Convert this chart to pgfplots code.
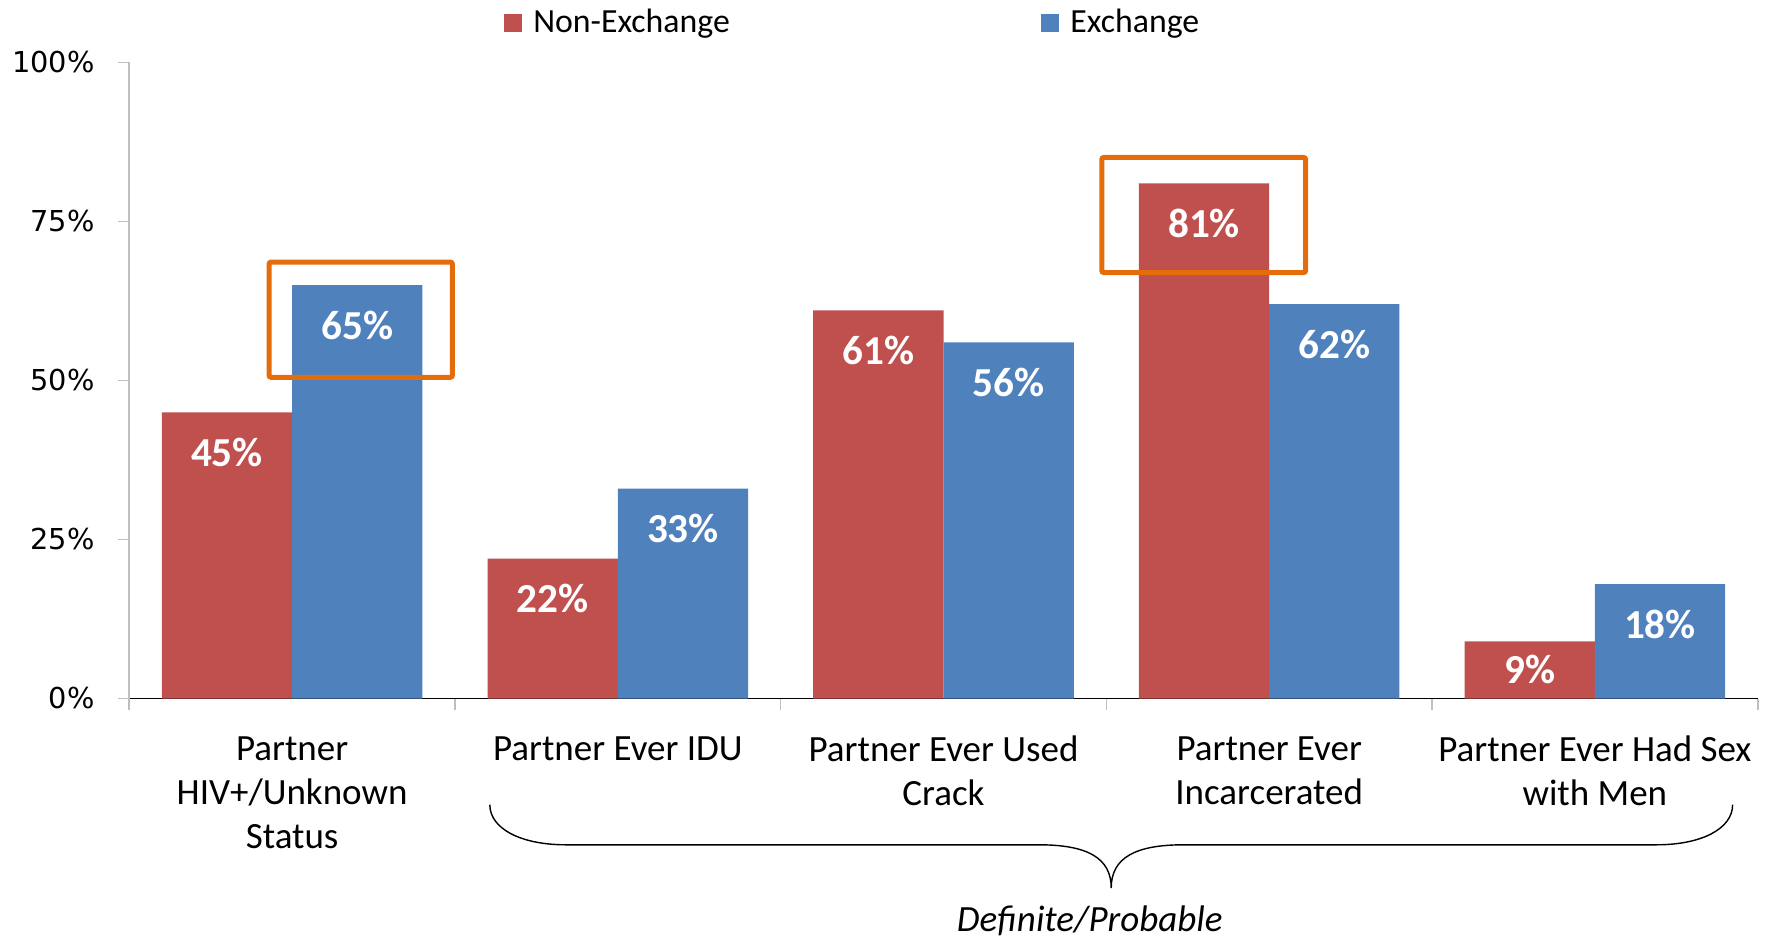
\documentclass[border=0pt]{standalone}
\usepackage{pgfplots}
\pgfplotsset{compat=1.18}
\usepackage{fontspec}
\setmainfont{Carlito}
\newfontfamily\tickfont{DejaVu Sans}
\definecolor{neRed}{HTML}{C0504D}
\definecolor{exBlue}{HTML}{4F81BD}
\definecolor{hiOrange}{HTML}{E46C0A}
\definecolor{axGray}{HTML}{BFBFBF}

\pgfplotsset{
  sq legend/.style={legend image code/.code={\fill[##1] (0pt,-4.5pt) rectangle (9pt,4.5pt);}},
}

\begin{document}
\begin{tikzpicture}
\begin{axis}[
    at={(0,0)}, anchor=south west,
    scale only axis, width=814.2pt, height=318.05pt,
    ybar=0pt, bar width=0.4,
    xmin=-0.5, xmax=4.5, ymin=0, ymax=100,
    clip=false,
    axis x line=bottom, axis y line=left,
    axis line style={-},
    x axis line style={black, line width=0.5pt},
    y axis line style={axGray, line width=0.8pt},
    tick align=outside,
    major tick length=5.7pt, minor tick length=5.7pt,
    xtick={0,1,2,3,4},
    xticklabels={{Partner\\HIV+/Unknown\\Status},{Partner Ever IDU},{Partner Ever Used\\Crack},{Partner Ever\\Incarcerated},{Partner Ever Had Sex\\with Men}},
    minor xtick={-0.5,0.5,1.5,2.5,3.5,4.5},
    major x tick style={draw=none},
    minor x tick style={axGray, line width=0.8pt},
    ytick={0,25,50,75,100},
    yticklabels={0\%,25\%,50\%,75\%,100\%},
    ytick style={axGray, line width=0.8pt},
    xticklabel style={font=\fontsize{18.5}{22}\selectfont, align=center, anchor=north, inner sep=0pt, yshift=-13pt},
    yticklabel style={font=\tickfont\fontsize{14.4}{16}\selectfont, anchor=east, inner sep=0pt, xshift=-11.5pt},
    visualization depends on={y \as \rawy},
    nodes near coords={\pgfmathprintnumber[assume math mode=true]{\pgfplotspointmeta}\%},
    every node near coord/.append style={font=\bfseries\fontsize{20.6}{24}\selectfont, text=white, anchor=center,
        yshift={-min(20,\rawy*1.59)*1pt}},
    legend columns=2,
    legend style={at={(rel axis cs:0,1)}, anchor=west, xshift=187.1pt, yshift=19.9pt,
        draw=none, fill=none, inner sep=0pt, font=\fontsize{16.9}{20}\selectfont,
        nodes={inner sep=0pt},
        /tikz/every odd column/.append style={column sep=5.7pt},
        /tikz/every even column/.append style={column sep=155.6pt}},
]
\addplot[fill=neRed, draw=none, sq legend] coordinates {(0,45) (1,22) (2,61) (3,81) (4,9)};
\addlegendentry{Non-Exchange}
\addplot[fill=exBlue, draw=none, sq legend] coordinates {(0,65) (1,33) (2,56) (3,62) (4,18)};
\addlegendentry{Exchange}

% highlight boxes
\draw[hiOrange, line width=2.5pt, rounded corners=1pt] (axis cs:-0.071,50.5) rectangle (axis cs:0.492,68.6);
\draw[hiOrange, line width=2.5pt, rounded corners=1pt] (axis cs:2.486,66.97) rectangle (axis cs:3.112,85.05);

% brace under the last four groups
\draw[black, line width=0.7pt] (axis cs:0.607,-16.7)
    .. controls (axis cs:0.607,-20.4) and (axis cs:0.70,-23) .. (axis cs:0.841,-23)
    -- (axis cs:2.293,-23)
    .. controls (axis cs:2.44,-23) and (axis cs:2.515,-25) .. (axis cs:2.515,-29.8)
    .. controls (axis cs:2.515,-25) and (axis cs:2.59,-23) .. (axis cs:2.737,-23)
    -- (axis cs:4.189,-23)
    .. controls (axis cs:4.33,-23) and (axis cs:4.423,-20.4) .. (axis cs:4.423,-16.7);
\node[anchor=base, font=\itshape\fontsize{18.5}{22}\selectfont, inner sep=0pt] at (axis cs:2.449,-36.7) {Definite/Probable};
\end{axis}
\pgfresetboundingbox
\path[use as bounding box] (-64.65pt,-119.75pt) rectangle (824.35pt,349.25pt);
\end{tikzpicture}
\end{document}
